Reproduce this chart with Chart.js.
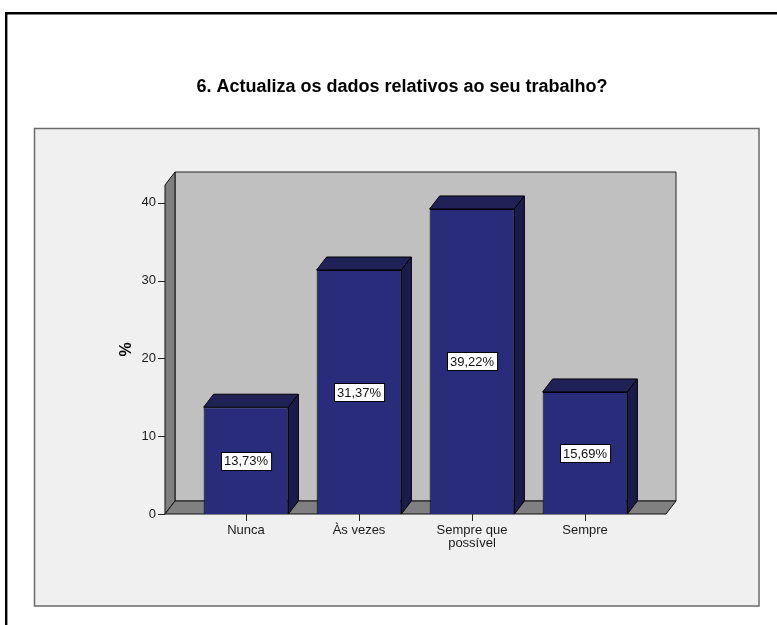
<!DOCTYPE html>
<html lang="pt">
<head>
    <meta charset="UTF-8">
    <title>Actualiza os dados relativos ao seu trabalho?</title>
    <script src="https://cdn.jsdelivr.net/npm/chart.js"></script>
    <style>
        body {
            margin: 0;
            background: #fff;
        }
        canvas {
            display: block;
        }
    </style>
</head>
<body>
    <canvas id="barChart" width="777" height="625"></canvas>

    <script>
        const chartTitle = '6. Actualiza os dados relativos ao seu trabalho?';
        const categories = ['Nunca', 'Às vezes', ['Sempre que', 'possível'], 'Sempre'];
        const percentages = [13.73, 31.37, 39.22, 15.69];
        const yTicks = [0, 10, 20, 30, 40];
        const yMax = 42.3;

        const FONT = '"Liberation Sans", Arial, sans-serif';
        Chart.defaults.font.family = FONT;

        // depth of the 3D box and how far walls reach past the category band
        const depthX = 10;
        const depthY = 13;
        const wallPad = 24.5;

        function poly(ctx, pts, fill, stroke) {
            ctx.beginPath();
            ctx.moveTo(pts[0][0], pts[0][1]);
            for (let i = 1; i < pts.length; i++) ctx.lineTo(pts[i][0], pts[i][1]);
            ctx.closePath();
            ctx.fillStyle = fill;
            ctx.fill();
            ctx.strokeStyle = stroke;
            ctx.lineWidth = 1;
            ctx.stroke();
        }

        const backdrop = {
            id: 'backdrop',
            beforeDraw(chart) {
                const { ctx, chartArea: a, scales: { y } } = chart;
                ctx.save();
                ctx.fillStyle = '#fff';
                ctx.fillRect(0, 0, chart.width, chart.height);

                // outer frame (left and top only)
                ctx.strokeStyle = '#000';
                ctx.lineWidth = 2.4;
                ctx.beginPath();
                ctx.moveTo(6.2, chart.height);
                ctx.lineTo(6.2, 13.3);
                ctx.lineTo(chart.width, 13.3);
                ctx.stroke();

                // grey panel
                ctx.fillStyle = '#f0f0f0';
                ctx.fillRect(34.5, 128.5, 724.5, 477.5);
                ctx.strokeStyle = '#6a6a6a';
                ctx.lineWidth = 1.5;
                ctx.strokeRect(34.5, 128.5, 724.5, 477.5);

                // title
                ctx.fillStyle = '#000';
                ctx.font = 'bold 18px ' + FONT;
                ctx.textAlign = 'center';
                ctx.textBaseline = 'middle';
                ctx.fillText(chartTitle, 402, 87);

                // walls and floor
                const x0 = a.left - wallPad;
                const x1 = a.right + wallPad;
                const yb = y.getPixelForValue(0);
                const yt = y.getPixelForValue(y.max);
                poly(ctx, [[x0 + depthX, yt - depthY], [x1 + depthX, yt - depthY],
                           [x1 + depthX, yb - depthY], [x0 + depthX, yb - depthY]], '#c0c0c0', '#222');
                poly(ctx, [[x0, yb], [x0, yt], [x0 + depthX, yt - depthY], [x0 + depthX, yb - depthY]], '#808080', '#111');
                poly(ctx, [[x0, yb], [x0 + depthX, yb - depthY], [x1 + depthX, yb - depthY], [x1, yb]], '#808080', '#111');

                // value axis tick marks on the front edge
                ctx.strokeStyle = '#222';
                ctx.lineWidth = 1;
                y.ticks.forEach(t => {
                    const py = Math.round(y.getPixelForValue(t.value)) + 0.5;
                    ctx.beginPath();
                    ctx.moveTo(x0 - 7, py);
                    ctx.lineTo(x0, py);
                    ctx.stroke();
                });
                ctx.restore();
            },
            afterDatasetsDraw(chart) {
                const { ctx } = chart;
                const meta = chart.getDatasetMeta(0);
                ctx.save();
                meta.data.forEach((bar, i) => {
                    const { x, y, base, width } = bar.getProps(['x', 'y', 'base', 'width'], true);
                    const l = x - width / 2;
                    const r = x + width / 2;
                    // top and side faces
                    poly(ctx, [[l, y], [l + depthX, y - depthY], [r + depthX, y - depthY], [r, y]], '#1f2157', '#000');
                    poly(ctx, [[r, y], [r + depthX, y - depthY], [r + depthX, base - depthY], [r, base]], '#1a1b4a', '#000');

                    // value label
                    const text = percentages[i].toFixed(2).replace('.', ',') + '%';
                    ctx.font = '13px ' + FONT;
                    const w = ctx.measureText(text).width + 6;
                    const h = 18;
                    const cy = (y + base) / 2;
                    const bx = Math.round(x - w / 2) + 0.5;
                    const by = Math.round(cy - h / 2) + 0.5;
                    ctx.fillStyle = '#fff';
                    ctx.fillRect(bx, by, w, h);
                    ctx.strokeStyle = '#000';
                    ctx.lineWidth = 1;
                    ctx.strokeRect(bx, by, w, h);
                    ctx.fillStyle = '#111';
                    ctx.textAlign = 'center';
                    ctx.textBaseline = 'middle';
                    ctx.fillText(text, x, cy + 1);
                });
                ctx.restore();
            }
        };

        const ctx = document.getElementById('barChart').getContext('2d');

        new Chart(ctx, {
            type: 'bar',
            data: {
                labels: categories,
                datasets: [{
                    data: percentages,
                    backgroundColor: '#292b7b',
                    borderColor: '#000',
                    borderWidth: 1,
                    barPercentage: 0.75,
                    categoryPercentage: 1
                }]
            },
            options: {
                responsive: false,
                animation: false,
                layout: {
                    padding: { left: 34, right: 135.5, top: 185, bottom: 0 }
                },
                plugins: {
                    legend: { display: false },
                    tooltip: { enabled: false }
                },
                scales: {
                    x: {
                        offset: true,
                        grid: {
                            display: true,
                            offset: false,
                            drawOnChartArea: false,
                            drawTicks: true,
                            tickLength: 7,
                            color: '#222'
                        },
                        border: { display: false },
                        ticks: {
                            color: '#1a1a1a',
                            font: { size: 13, lineHeight: 1.0 },
                            padding: 3,
                            maxRotation: 0,
                            autoSkip: false
                        },
                        afterFit(scale) { scale.height = 111; }
                    },
                    y: {
                        min: 0,
                        max: yMax,
                        grid: { display: false, drawTicks: false },
                        border: { display: false },
                        afterBuildTicks(scale) {
                            scale.ticks = yTicks.map(v => ({ value: v }));
                        },
                        ticks: {
                            color: '#1a1a1a',
                            font: { size: 13 },
                            padding: 33.5
                        },
                        title: {
                            display: true,
                            text: '%',
                            color: '#000',
                            font: { size: 16, weight: 'bold' },
                            padding: { top: 83, bottom: 0 }
                        },
                        afterFit(scale) { scale.width = 155.5; }
                    }
                }
            },
            plugins: [backdrop]
        });
    </script>
</body>
</html>
